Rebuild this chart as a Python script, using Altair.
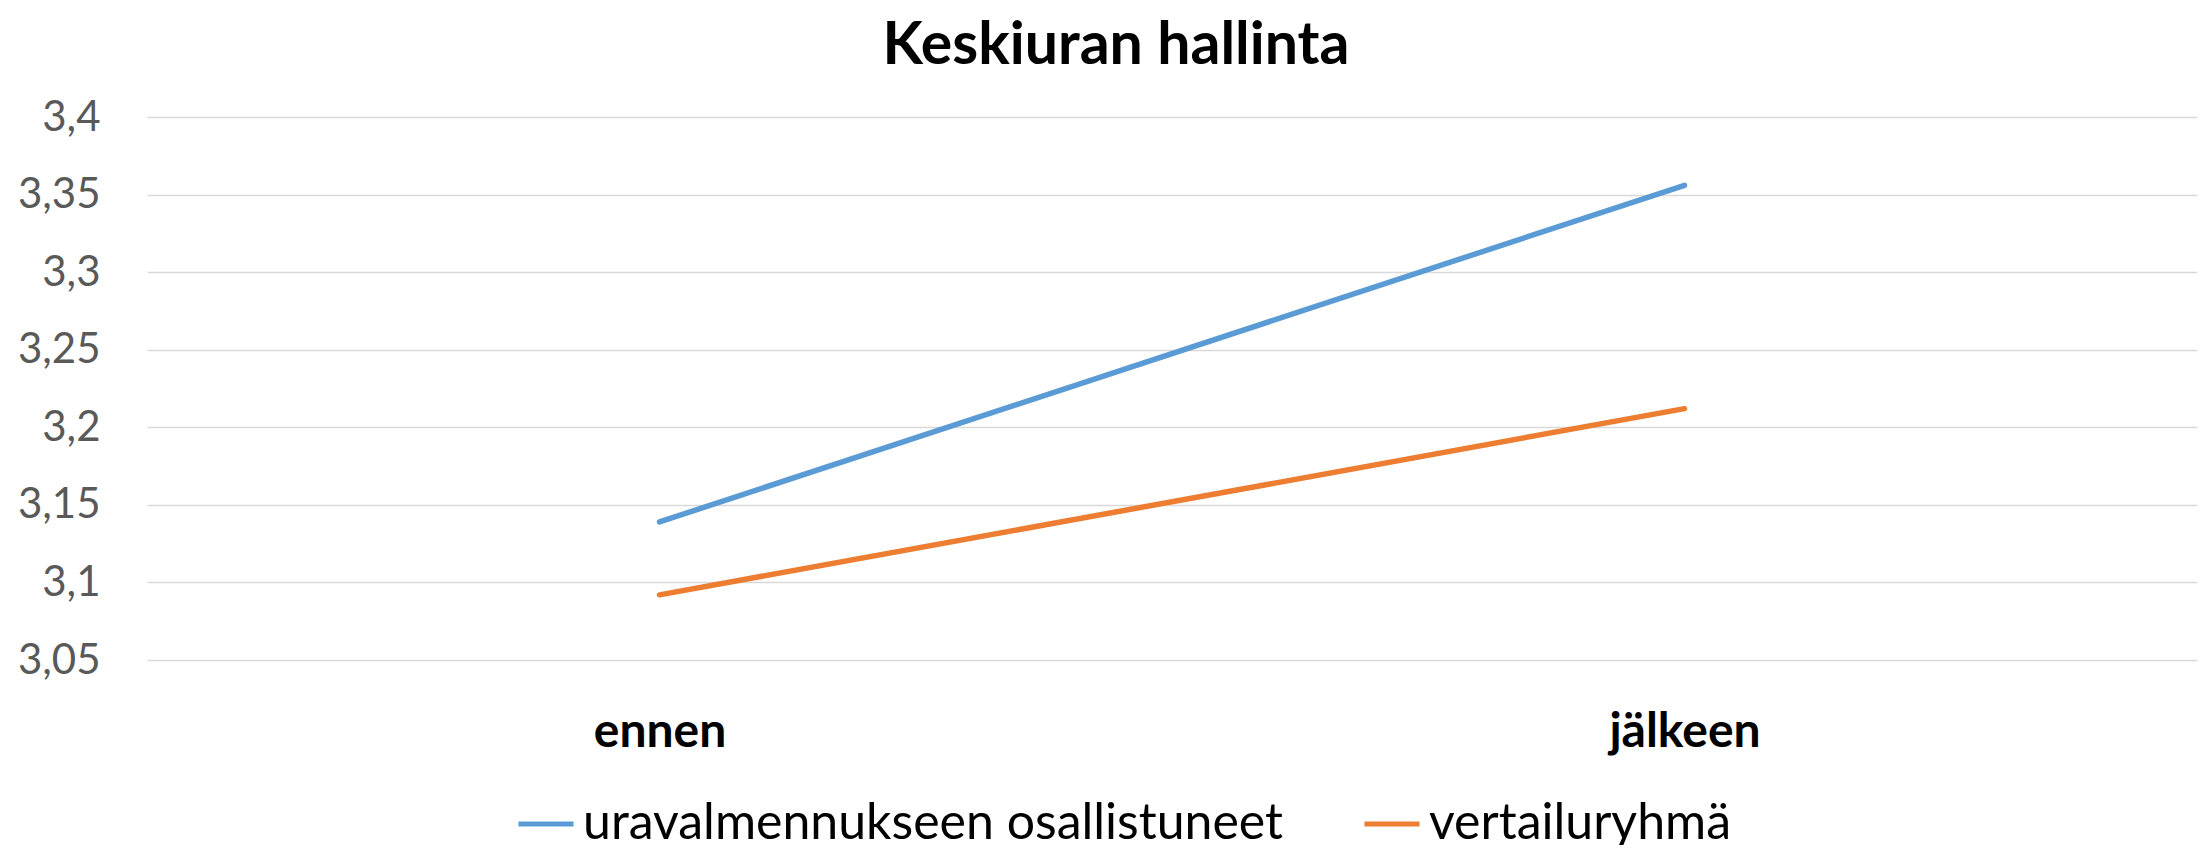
import altair as alt
import pandas as pd

categories = ["ennen", "jälkeen"]
series_names = ["uravalmennukseen osallistuneet", "vertailuryhmä"]
participants = [3.139, 3.356]
comparison = [3.092, 3.212]
y_ticks = [3.05, 3.1, 3.15, 3.2, 3.25, 3.3, 3.35, 3.4]
colors = ["#5B9BD5", "#ED7D31"]

rows = []
for name, vals in zip(series_names, [participants, comparison]):
    for c, v in zip(categories, vals):
        rows.append({"aika": c, "ryhma": name, "arvo": v})
df = pd.DataFrame(rows)

chart = alt.Chart(df).mark_line(strokeWidth=5.5, strokeCap="round").encode(
    x=alt.X("aika:N", sort=categories, title=None,
            scale=alt.Scale(type="point", padding=0.5),
            axis=alt.Axis(labelAngle=0, labelFont="Lato", labelFontSize=48,
                          labelFontWeight="bold", labelColor="#000000",
                          ticks=False, tickSize=0, domain=False, grid=False,
                          labelBaseline="alphabetic", labelPadding=86)),
    y=alt.Y("arvo:Q", title=None,
            scale=alt.Scale(domain=[3.05, 3.4], nice=False, zero=False),
            axis=alt.Axis(values=y_ticks, labelFont="Lato", labelFontSize=42,
                          labelColor="#595959", ticks=False, tickSize=0,
                          domain=False, grid=True, gridColor="#d9d9d9",
                          gridWidth=1.5, labelPadding=47,
                          labelExpr="replace(format(datum.value, '.2~f'), '.', ',')")),
    color=alt.Color("ryhma:N", title=None,
                    scale=alt.Scale(domain=series_names, range=colors),
                    legend=alt.Legend(orient="none", legendX=369, legendY=677,
                                      direction="horizontal", symbolType="stroke",
                                      symbolStrokeWidth=5, symbolSize=3025,
                                      labelFont="Lato", labelFontSize=50,
                                      labelColor="#000000", columnPadding=70,
                                      labelOffset=7, padding=0, labelLimit=0)),
).properties(
    width=2050,
    height=543,
    title=alt.Title("Keskiuran hallinta", font="Lato", fontSize=59,
                    fontWeight="bold", color="#000000", anchor="middle",
                    dx=-56, dy=-16),
    autosize=alt.AutoSizeParams(type="none"),
    padding={"left": 139, "top": 109, "right": 0, "bottom": 185},
).configure_view(stroke=None)

chart.save("out.html", embed_options={"renderer": "svg", "actions": False})
